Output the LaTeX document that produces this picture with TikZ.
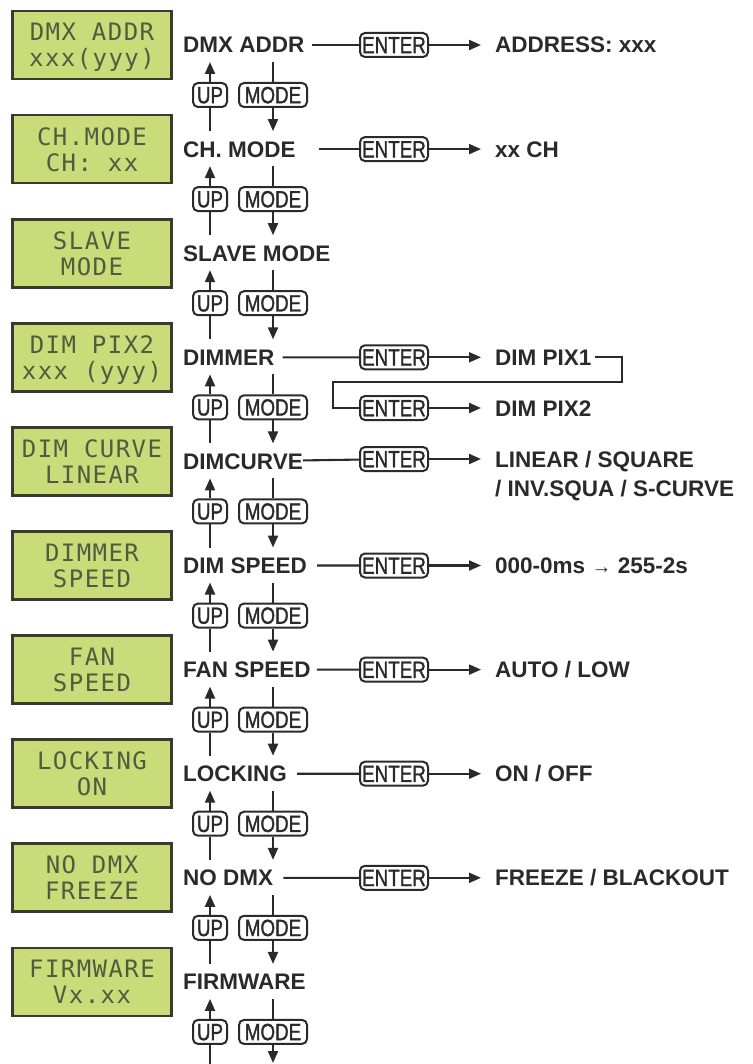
\documentclass[tikz,border=0pt]{standalone}
\usepackage{fontspec}
\setmainfont{Liberation Sans}
\newfontfamily\keyfont[FakeStretch=0.8,FakeBold=1.3]{Liberation Sans}
\newfontfamily\lcdfont[LetterSpace=6]{DejaVu Sans Mono}
\usetikzlibrary{arrows.meta}
\definecolor{ink}{HTML}{2A2A2A}
\definecolor{lcdbg}{HTML}{CADC7A}
\definecolor{lcdtx}{HTML}{535B3E}
\definecolor{lcdrim}{HTML}{3A3A30}
\begin{document}
\begin{tikzpicture}[x=1pt,y=-1pt,
  lcd/.style={draw=lcdrim,line width=2.8pt,fill=lcdbg,minimum width=159pt,minimum height=68pt,inner sep=0},
  lcdtext/.style={text=lcdtx,font=\lcdfont\fontsize{24}{26}\selectfont,inner sep=0,anchor=base},
  lbl/.style={anchor=west,inner sep=0,text=ink,text height=16pt,text depth=0pt,font=\bfseries\fontsize{22.5}{27}\selectfont},
  key/.style={draw=ink,line width=2pt,rounded corners=5pt,minimum height=24pt,inner sep=0,text=ink,text height=16.5pt,text depth=0pt,font=\keyfont\fontsize{23.5}{24}\selectfont},
  enterkey/.style={key,minimum width=68pt},
  upkey/.style={key,minimum width=34pt},
  modekey/.style={key,minimum width=68pt},
  wire/.style={draw=ink,line width=2.1pt},
  arr/.style={wire,-{Triangle[length=12pt,width=10pt]}},
]
\useasboundingbox (0,0) rectangle (752,1064);

% LCD screens and menu labels
\foreach \i/\lab/\la/\lb in {
  0/DMX ADDR/DMX ADDR/xxx(yyy),
  1/CH. MODE/CH.MODE/CH: xx,
  2/SLAVE MODE/SLAVE/MODE,
  3/DIMMER/DIM PIX2/xxx (yyy),
  4/DIMCURVE/DIM CURVE/LINEAR,
  5/DIM SPEED/DIMMER/SPEED,
  6/FAN SPEED/FAN/SPEED,
  7/LOCKING/LOCKING/ON,
  8/NO DMX/NO DMX/FREEZE,
  9/FIRMWARE/FIRMWARE/Vx.xx}{
  \pgfmathsetmacro\y{45+104.1*\i}
  \node[lcd] (lcd\i) at (92,\y) {};
  \node[lcdtext] (lcd\i a) at (92,\y-4) {\la};
  \node[lcdtext] (lcd\i b) at (92,\y+22) {\lb};
  \node[lbl] (L\i) at (183,\y) {\lab};
  % UP / MODE keys below each label
  \node[upkey] (U\i) at (210,\y+50) {UP};
  \node[modekey] (M\i) at (273,\y+50) {MODE};
  \coordinate (ut\i) at (210,\y+17);
  \coordinate (mt\i) at (273,\y+17);
  \pgfmathsetmacro\yb{min(45+104.1*(\i+1)-18,1063)}
  \pgfmathsetmacro\yu{min(45+104.1*(\i+1)-18,1066)}
  \coordinate (ub\i) at (210,\yu);
  \coordinate (mb\i) at (273,\yb);
  \draw[wire] (mt\i) -- (M\i.north);
  \draw[arr] (M\i.south) -- (mb\i);
  \draw[wire] (ub\i) -- (U\i.south);
  \draw[arr] (U\i.north) -- (ut\i);
}

% ENTER branches
\node[enterkey] (E0) at (394,45) {ENTER};
\node[lbl] (R0) at (495,45) {ADDRESS: xxx};
\draw[wire,shorten <=7pt] (L0) -- (E0);
\draw[arr,shorten >=14pt] (E0) -- (R0);

\node[enterkey] (E1) at (394,149.1) {ENTER};
\node[lbl] (R1) at (495,149.1) {xx CH};
\draw[wire,shorten <=23pt] (L1) -- (E1);
\draw[arr,shorten >=14pt] (E1) -- (R1);

\node[enterkey] (E3) at (394,357.3) {ENTER};
\node[lbl] (R3) at (495,357.3) {DIM PIX1};
\draw[wire,shorten <=8pt] (L3) -- (E3);
\draw[arr,shorten >=14pt] (E3) -- (R3);
\node[enterkey] (E3b) at (394,408) {ENTER};
\node[lbl] (R3b) at (495,408) {DIM PIX2};
\draw[arr,shorten >=14pt] (E3b) -- (R3b);
\coordinate (c1) at (622,382);
\coordinate (c2) at (333,382);
\draw[wire,shorten <=3pt] (R3.east) -| (c1) -- (c2) |- (E3b.west);

\node[enterkey] (E4) at (394,459) {ENTER};
\node[lbl] (R4) at (495,459) {LINEAR / SQUARE};
\node[lbl] (R4b) at (495,488) {/ INV.SQUA / S-CURVE};
\draw[wire] (L4) -- (E4);
\draw[arr,shorten >=14pt] (E4) -- (R4);

\node[enterkey] (E5) at (394,565.5) {ENTER};
\node[lbl] (R5) at (495,565.5) {000-0ms {\mdseries\fontsize{20}{20}\selectfont→} 255-2s};
\draw[wire,shorten <=10pt] (L5) -- (E5);
\draw[arr,shorten >=14pt] (E5) -- (R5);

\node[enterkey] (E6) at (394,669.6) {ENTER};
\node[lbl] (R6) at (495,669.6) {AUTO / LOW};
\draw[wire,shorten <=6pt] (L6) -- (E6);
\draw[arr,shorten >=14pt] (E6) -- (R6);

\node[enterkey] (E7) at (394,773.7) {ENTER};
\node[lbl] (R7) at (495,773.7) {ON / OFF};
\draw[wire,shorten <=10pt] (L7) -- (E7);
\draw[arr,shorten >=14pt] (E7) -- (R7);

\node[enterkey] (E8) at (394,877.8) {ENTER};
\node[lbl] (R8) at (495,877.8) {FREEZE / BLACKOUT};
\draw[wire,shorten <=10pt] (L8) -- (E8);
\draw[arr,shorten >=14pt] (E8) -- (R8);
\end{tikzpicture}
\end{document}
